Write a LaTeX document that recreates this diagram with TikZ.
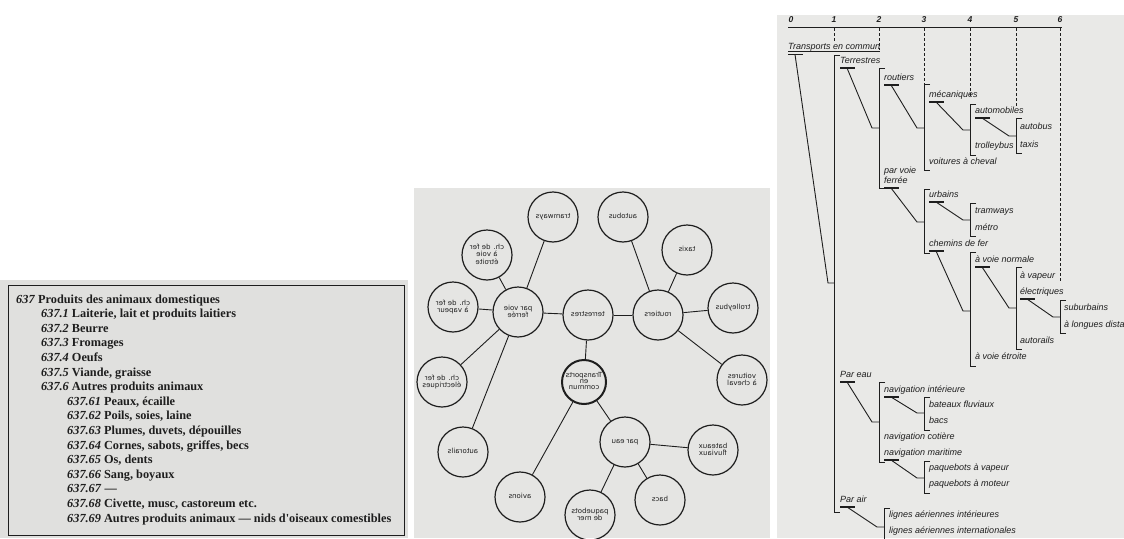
\documentclass[tikz,border=0pt]{standalone}
\usepackage{fontspec}
\usepackage{graphicx}
\setmainfont{Liberation Serif}
\newfontfamily\tablefont{Liberation Serif}
\newfontfamily\treefont{Liberation Sans}
\newfontfamily\bubblefont{DejaVu Sans}
\usetikzlibrary{calc}

\definecolor{ink}{RGB}{30,30,30}
\definecolor{paperA}{RGB}{224,224,222}
\definecolor{paperB}{RGB}{229,229,227}
\definecolor{paperC}{RGB}{233,233,231}

% class number of a table entry
\newcommand\cnum[1]{\textit{#1}}
% reversed lettering inside the bubbles
\newcommand\mirrored[1]{\reflectbox{\renewcommand\arraystretch{0.78}\begin{tabular}{@{}c@{}}#1\end{tabular}}}
% tree branch: parent node, bracket x, bracket top, bracket bottom, join y
\newcommand\branch[5]{%
  \draw[bar] ($(#1.base west)+(0,5)$) -- ++(15,0);
  \draw[treeline] ($(#1.base west)+(7,5)$) -- (#2-7,#5) -- (#2,#5);
  \draw[treeline] (#2+6,#3) -- (#2,#3) -- (#2,#4) -- (#2+6,#4);
}

\begin{document}
\begin{tikzpicture}[x=1pt,y=-1pt,
  tabline/.style={anchor=base west, inner sep=0pt, text=ink,
    font=\tablefont\bfseries\fontsize{12.3}{14}\selectfont},
  bubble/.style={circle, draw=ink, line width=1.2pt, minimum size=50pt,
    inner sep=0pt, text=ink, font=\bubblefont\fontsize{7}{7.5}\selectfont},
  hub/.style={bubble, minimum size=44pt, line width=2pt},
  link/.style={draw=ink, line width=0.9pt},
  treelabel/.style={anchor=base west, inner sep=0pt, text=ink,
    font=\treefont\itshape\fontsize{9}{10}\selectfont},
  axisnum/.style={anchor=base, inner sep=0pt, text=ink,
    font=\treefont\itshape\bfseries\fontsize{8.5}{9}\selectfont},
  treeline/.style={draw=ink, line width=0.9pt},
  bar/.style={draw=ink, line width=1.5pt},
  guide/.style={draw=ink, line width=0.8pt, dash pattern=on 3pt off 2pt},
]
\useasboundingbox (0,0) rectangle (1124,538);

% ---------------- classification table ----------------
\fill[paperA] (0,280) rectangle (408,538);
\draw[ink, line width=0.9pt] (8,285) rectangle (404,535);
\node[tabline] (t0)  at (16,303)   {\cnum{637} Produits des animaux domestiques};
\node[tabline] (t1)  at (41,317.6) {\cnum{637.1} Laiterie, lait et produits laitiers};
\node[tabline] (t2)  at (41,332.2) {\cnum{637.2} Beurre};
\node[tabline] (t3)  at (41,346.8) {\cnum{637.3} Fromages};
\node[tabline] (t4)  at (41,361.4) {\cnum{637.4} Oeufs};
\node[tabline] (t5)  at (41,376)   {\cnum{637.5} Viande, graisse};
\node[tabline] (t6)  at (41,390.6) {\cnum{637.6} Autres produits animaux};
\node[tabline] (t61) at (67,405.2) {\cnum{637.61} Peaux, écaille};
\node[tabline] (t62) at (67,419.8) {\cnum{637.62} Poils, soies, laine};
\node[tabline] (t63) at (67,434.4) {\cnum{637.63} Plumes, duvets, dépouilles};
\node[tabline] (t64) at (67,449)   {\cnum{637.64} Cornes, sabots, griffes, becs};
\node[tabline] (t65) at (67,463.6) {\cnum{637.65} Os, dents};
\node[tabline] (t66) at (67,478.2) {\cnum{637.66} Sang, boyaux};
\node[tabline] (t67) at (67,492.8) {\cnum{637.67} —};
\node[tabline] (t68) at (67,507.4) {\cnum{637.68} Civette, musc, castoreum etc.};
\node[tabline] (t69) at (67,522)   {\cnum{637.69} Autres produits animaux — nids d'oiseaux comestibles};

% ---------------- bubble diagram ----------------
\fill[paperB] (414,188) rectangle (770,538);
\begin{scope}
\clip (414,188) rectangle (770,538);
\node[bubble] (tram) at (553,217) {\mirrored{tramways}};
\node[bubble] (bus)  at (623,217) {\mirrored{autobus}};
\node[bubble] (taxi) at (687,250) {\mirrored{taxis}};
\node[bubble] (etr)  at (487,255) {\mirrored{ch. de fer\\à voie\\étroite}};
\node[bubble] (vap)  at (453,307) {\mirrored{ch. de fer\\à vapeur}};
\node[bubble] (pvf)  at (518,312) {\mirrored{par voie\\ferrée}};
\node[bubble] (ter)  at (588,315) {\mirrored{terrestres}};
\node[bubble] (rou)  at (658,315) {\mirrored{routiers}};
\node[bubble] (trol) at (733,308) {\mirrored{trolleybus}};
\node[bubble] (elec) at (442,382) {\mirrored{ch. de fer\\électriques}};
\node[hub]    (hub)  at (584,382) {\mirrored{Transports\\en\\commun}};
\node[bubble] (voit) at (742,380) {\mirrored{voitures\\à cheval}};
\node[bubble] (rail) at (463,452) {\mirrored{autorails}};
\node[bubble] (eau)  at (625,442) {\mirrored{par eau}};
\node[bubble] (bat)  at (713,450) {\mirrored{bateaux\\fluviaux}};
\node[bubble] (avi)  at (520,497) {\mirrored{avions}};
\node[bubble] (bac)  at (660,500) {\mirrored{bacs}};
\node[bubble] (paq)  at (590,515) {\mirrored{paquebots\\de mer}};
\foreach \a/\b in {pvf/tram, pvf/etr, pvf/vap, pvf/ter, ter/rou, rou/bus,
                   rou/taxi, rou/trol, rou/voit, pvf/elec, pvf/rail, ter/hub,
                   hub/eau, hub/avi, eau/bat, eau/bac, eau/paq}
  \draw[link] (\a) -- (\b);
\end{scope}

% ---------------- tree diagram ----------------
\fill[paperC] (777,15) rectangle (1124,538);
\begin{scope}
\clip (777,15) rectangle (1124,538);
% level scale
\coordinate (ax0) at (788,27);
\coordinate (ax6) at (1062,27);
\draw[treeline] (ax0) -- (ax6);
\foreach \n/\x in {0/791, 1/834, 2/879, 3/924, 4/970, 5/1016, 6/1060}
  \node[axisnum] (n\n) at (\x,23) {\n};
\foreach \x/\y in {834/42, 879/50, 924/84, 970/96, 1016/106, 1060/282}
  \draw[guide] (\x,28) -- (\x,\y);

% labels
\node[treelabel] (root) at (788,49)  {Transports en commun};
\node[treelabel] (lter) at (840,63)  {Terrestres};
\node[treelabel] (leau) at (840,377) {Par eau};
\node[treelabel] (lair) at (840,502) {Par air};
\node[treelabel] (lrou) at (884,80)  {routiers};
\node[treelabel] (lpv)  at (884,173) {par voie};
\node[treelabel] (lpvf) at (884,183) {ferrée};
\node[treelabel] (lnvi) at (884,392) {navigation intérieure};
\node[treelabel] (lnvc) at (884,439) {navigation cotière};
\node[treelabel] (lnvm) at (884,455) {navigation maritime};
\node[treelabel] (llai) at (889,517) {lignes aériennes intérieures};
\node[treelabel] (llae) at (889,533) {lignes aériennes internationales};
\node[treelabel] (lmec) at (929,97)  {mécaniques};
\node[treelabel] (lvoi) at (929,164) {voitures à cheval};
\node[treelabel] (lurb) at (929,197) {urbains};
\node[treelabel] (lchf) at (929,246) {chemins de fer};
\node[treelabel] (lbat) at (929,407) {bateaux fluviaux};
\node[treelabel] (lbac) at (929,423) {bacs};
\node[treelabel] (lpqv) at (929,470) {paquebots à vapeur};
\node[treelabel] (lpqm) at (929,486) {paquebots à moteur};
\node[treelabel] (laut) at (975,113) {automobiles};
\node[treelabel] (ltro) at (975,148) {trolleybus};
\node[treelabel] (ltra) at (975,213) {tramways};
\node[treelabel] (lmet) at (975,230) {métro};
\node[treelabel] (lavn) at (975,262) {à voie normale};
\node[treelabel] (lave) at (975,359) {à voie étroite};
\node[treelabel] (lbus) at (1020,129) {autobus};
\node[treelabel] (ltax) at (1020,147) {taxis};
\node[treelabel] (lvap) at (1020,278) {à vapeur};
\node[treelabel] (lele) at (1020,294) {électriques};
\node[treelabel] (lrai) at (1020,343) {autorails};
\node[treelabel] (lsub) at (1064,310) {suburbains};
\node[treelabel] (llon) at (1064,327) {à longues distances};

% root: underlined title and its bracket
\draw[treeline] ($(root.base west)+(0,2.5)$) -- ($(root.base east)+(0,2.5)$);
\draw[bar] ($(root.base west)+(0,5.5)$) -- ++(15,0);
\draw[treeline] ($(root.base west)+(7,5.5)$) -- (828,283) -- (834,283);
\draw[treeline] (840,55) -- (834,55) -- (834,512) -- (840,512);

% branches
\branch{lter}{879}{68}{188}{128}
\branch{lrou}{924}{84}{170}{128}
\branch{lmec}{970}{104}{155}{130}
\branch{laut}{1016}{118}{153}{136}
\branch{lpvf}{924}{189}{253}{222}
\branch{lurb}{970}{203}{236}{220}
\branch{lchf}{970}{252}{366}{311}
\branch{lavn}{1016}{267}{349}{308}
\branch{lele}{1060}{300}{333}{317}
\branch{leau}{879}{382}{462}{422}
\branch{lnvi}{924}{397}{430}{413}
\branch{lnvm}{924}{461}{493}{478}
\branch{lair}{884}{508}{560}{527}
\end{scope}
\end{tikzpicture}
\end{document}
